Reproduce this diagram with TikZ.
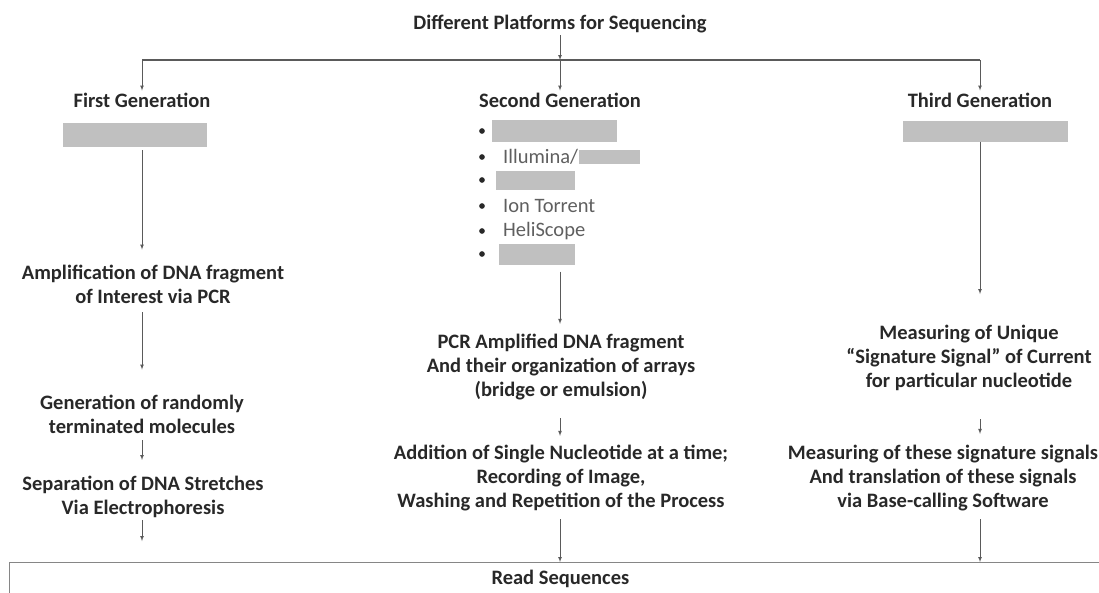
\documentclass[tikz,border=0pt]{standalone}
\usepackage{fontspec}
\setmainfont{Carlito}
\usepackage{tikz}
\usepackage{xcolor}
\usetikzlibrary{arrows, calc, positioning}
\definecolor{boxgrey}{RGB}{192,192,192}
\definecolor{linegrey}{RGB}{90,90,90}
\definecolor{txtgrey}{RGB}{40,40,40}
\definecolor{itemgrey}{RGB}{95,95,95}
\tikzset{
  % Flow arrow style
  arr/.style={
    -latex, draw=linegrey, line width = 0.7pt
  },
  % Branch bar style
  bar/.style={
    draw=linegrey, line width = 1.6pt
  },
}

\begin{document}
\begin{tikzpicture}
          [x=1pt, y=-1pt
          , txt/.style={font=\bfseries\fontsize{20.5}{24}\selectfont, text=txtgrey, align=center, inner sep=2pt}
          , item/.style={font=\fontsize{20.5}{24}\selectfont, text=itemgrey, inner sep=0pt, anchor=west}
          , gbox/.style={fill=boxgrey, inner sep=0pt}
          , dot/.style={circle, fill=txtgrey, inner sep=2pt}
          ]
          \useasboundingbox (0,0) rectangle (1099,592);

          \node (title) [txt] at (560,24) {Different Platforms for Sequencing};
          \coordinate (hub) at (560,60);

          \node (gen1) [txt] at (142,100) {First Generation};
          \node (gen2) [txt] at (560,100) {Second Generation};
          \node (gen3) [txt] at (980,100) {Third Generation};

          \draw[bar] (gen1 |- hub) -- (gen3 |- hub);
          \draw[arr] (title) -- (hub);
          \draw[arr] (hub) -- (gen2);
          \draw[arr] (gen1 |- hub) -- (gen1);
          \draw[arr] (gen3 |- hub) -- (gen3);

          % first generation
          \node (fbox) [gbox, minimum width=144pt, minimum height=24pt] at (135,135) {};
          \node (amp) [txt] at (153,284) {Amplification of DNA fragment\\of Interest via PCR};
          \node (rand) [txt] at (142,414) {Generation of randomly\\terminated molecules};
          \node (sep) [txt] at (143,497) {Separation of DNA Stretches\\Via Electrophoresis};

          % second generation
          \node (s1) [gbox, minimum width=125pt, minimum height=22pt, anchor=west] at (492,131) {};
          \node (s2) [item] at (503,157) {Illumina/};
          \node (s2b) [gbox, minimum width=61pt, minimum height=14pt, right=0pt of s2] {};
          \node (s3) [gbox, minimum width=79pt, minimum height=19pt, anchor=west] at (496,180) {};
          \node (s4) [item] at (503,206) {Ion Torrent};
          \node (s5) [item] at (503,231) {HeliScope};
          \node (s6) [gbox, minimum width=76pt, minimum height=21pt, anchor=west] at (499,254) {};
          \foreach \y in {131,157,180,206,231,254}
            \node [dot] at (482,\y) {};
          \node (pcr) [txt] at (561,367) {PCR Amplified DNA fragment\\And their organization of arrays\\(bridge or emulsion)};
          \node (add) [txt] at (561,478) {Addition of Single Nucleotide at a time;\\Recording of Image,\\Washing and Repetition of the Process};

          % third generation
          \node (tbox) [gbox, minimum width=165pt, minimum height=21pt] at (985,131) {};
          \node (sig1) [txt] at (969,358) {Measuring of Unique\\``Signature Signal'' of Current\\for particular nucleotide};
          \node (sig2) [txt] at (943,478) {Measuring of these signature signals\\And translation of these signals\\via Base-calling Software};

          \node (reads) [draw=boxgrey!70!black
                        , line width=0.8pt
                        , minimum width=1102pt
                        , minimum height=34pt
                        , anchor=north west
                        , font=\bfseries\fontsize{20.5}{24}\selectfont
                        , text=txtgrey
                        ]
                        at (9,562) {Read Sequences};

          \draw[arr, shorten <=3pt, shorten >=13pt] (fbox.south -| gen1) -- (amp.north -| gen1);
          \draw[arr, shorten <=7pt, shorten >=23pt] (amp.south -| gen1) -- (rand.north -| gen1);
          \draw[arr, shorten <=5pt, shorten >=14pt] (rand.south -| gen1) -- (sep.north -| gen1);
          \draw[arr, shorten >=21pt] (sep.south -| gen1) -- (reads.north -| gen1);

          \draw[arr, shorten <=7pt, shorten >=8pt] (s6.south -| gen2) -- (pcr.north -| gen2);
          \draw[arr, shorten <=16pt, shorten >=7pt] (pcr.south -| gen2) -- (add.north -| gen2);
          \draw[arr, shorten <=6pt] (add.south -| gen2) -- (reads.north -| gen2);

          \draw[arr, shorten >=29pt] (tbox.south -| gen3) -- (sig1.north -| gen3);
          \draw[arr, shorten <=26pt, shorten >=9pt] (sig1.south -| gen3) -- (sig2.north -| gen3);
          \draw[arr, shorten <=6pt] (sig2.south -| gen3) -- (reads.north -| gen3);
      \end{tikzpicture}
\end{document}
